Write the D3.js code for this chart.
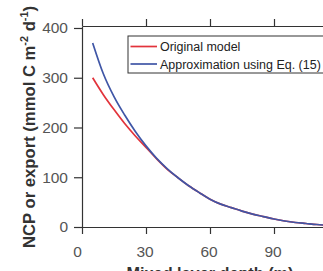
<!DOCTYPE html>
<html>
<head>
<meta charset="utf-8">
<script src="https://cdn.jsdelivr.net/npm/d3@7"></script>
<style>
  body { margin: 0; background: #fff; }
  svg { display: block; font-family: "Liberation Sans", Arial, sans-serif; }
  .axis path, .axis line { stroke: #333; stroke-width: 1.2; }
  .axis text { fill: #555; font-size: 15.5px; }
</style>
</head>
<body>
<div id="chart"></div>
<script>
// mixed layer depth (m)
var depth = [5, 10, 15, 20, 25, 30, 35, 40, 45, 50, 55, 60, 65, 70, 75, 80, 85, 90, 95, 100, 105, 110, 115, 120]
// original model
var original = [300, 266, 236, 208, 183, 160, 137, 116, 99, 83, 69, 56, 46, 39, 32, 26, 21, 16, 12, 9, 7, 5, 3.5, 2.5]
// approximation using Eq. (15)
var approx = [370, 308, 262, 225, 192, 163, 138, 117, 99, 83, 69, 56, 46, 39, 32, 26, 21, 16, 12, 9, 7, 5, 3.5, 2.5]

var xTicks = [0, 30, 60, 90]
var yTicks = [0, 100, 200, 300, 400]

var seriesNames = ["Original model", "Approximation using Eq. (15)"]
var color = ["#e2333b", "#3f56a6"]

var width = 323
var height = 271

var plotLeft = 82
var plotRight = 338
var plotTop = 26
var plotBottom = 227

var svg = d3.select('#chart')
            .append('svg')
            .attr('width', width)
            .attr('height', height)

var xScale = d3.scaleLinear()
                .domain([0, 120])
                .range([plotLeft, plotRight])

var yScale = d3.scaleLinear()
                .domain([0, 404])
                .range([plotBottom, plotTop])

// shrink/grow a text so its width matches the target
function fitWidth (sel, target) {
    var fs = parseFloat(sel.attr('font-size'))
    var w = sel.node().getComputedTextLength()
    sel.attr('font-size', (fs * target / w).toFixed(2) + 'px')
}

// axes
var xAxis = d3.axisBottom(xScale).tickValues(xTicks).tickSize(7).tickPadding(12).tickSizeOuter(0)
var yAxis = d3.axisLeft(yScale).tickValues(yTicks).tickSize(8).tickPadding(6).tickSizeOuter(0)
var topAxis = d3.axisTop(xScale).tickValues(xTicks).tickSize(7).tickFormat('').tickSizeOuter(0)

svg.append('g')
    .attr('class', 'axis')
    .attr('transform', 'translate(0,' + plotBottom + ')')
    .call(xAxis)
    .selectAll('text')
    .attr('dx', (d) => d === 0 ? -5 : -1.5)

svg.append('g')
    .attr('class', 'axis')
    .attr('transform', 'translate(0,' + plotTop + ')')
    .call(topAxis)

svg.append('g')
    .attr('class', 'axis')
    .attr('transform', 'translate(' + plotLeft + ',0)')
    .call(yAxis)

// curves
var line = d3.line()
            .curve(d3.curveMonotoneX)
            .x((d) => xScale(d[0]))
            .y((d) => yScale(d[1]))

var series = [original, approx]
series.forEach((vals, i) => {
    svg.append('path')
        .datum(depth.map((x, j) => [x, vals[j]]))
        .attr('d', line)
        .attr('fill', 'none')
        .attr('stroke', color[i])
        .attr('stroke-width', 1.7)
})

// legend
var legend = svg.append('g').attr('class', 'legend')
legend.append('rect')
    .attr('x', 128)
    .attr('y', 36)
    .attr('width', 200)
    .attr('height', 37)
    .attr('fill', '#fff')
    .attr('stroke', '#333')
    .attr('stroke-width', 1)

seriesNames.forEach((name, i) => {
    var yy = 46.5 + i * 17.5
    legend.append('line')
        .attr('x1', 130.5).attr('x2', 157)
        .attr('y1', yy).attr('y2', yy)
        .attr('stroke', color[i])
        .attr('stroke-width', 1.7)
    legend.append('text')
        .attr('x', 160)
        .attr('y', yy + 4.5)
        .attr('font-size', '13px')
        .attr('fill', '#222')
        .text(name)
})
// longest entry ends near the right edge
legend.selectAll('text').attr('font-size', null)
var longest = legend.selectAll('text').filter((d, i) => i === 1)
longest.attr('font-size', '13px')
fitWidth(longest, 161)
legend.selectAll('text').attr('font-size', longest.attr('font-size'))

// axis labels
var xLabel = svg.append('text')
    .attr('x', 210)
    .attr('y', 279)
    .attr('text-anchor', 'middle')
    .attr('font-size', '16px')
    .attr('font-weight', 'bold')
    .attr('fill', '#333')
    .text('Mixed layer depth (m)')
fitWidth(xLabel, 167)

var yLabel = svg.append('text')
    .attr('text-anchor', 'middle')
    .attr('transform', 'translate(35,127)rotate(-90)')
    .attr('font-size', '16px')
    .attr('font-weight', 'bold')
    .attr('fill', '#333')
yLabel.append('tspan').text('NCP or export (mmol C m')
yLabel.append('tspan').attr('dy', -7).attr('font-size', '0.65em').text('-2')
yLabel.append('tspan').attr('dy', 7).text(' d')
yLabel.append('tspan').attr('dy', -7).attr('font-size', '0.65em').text('-1')
yLabel.append('tspan').attr('dy', 7).text(')')
fitWidth(yLabel, 242)
</script>
</body>
</html>
